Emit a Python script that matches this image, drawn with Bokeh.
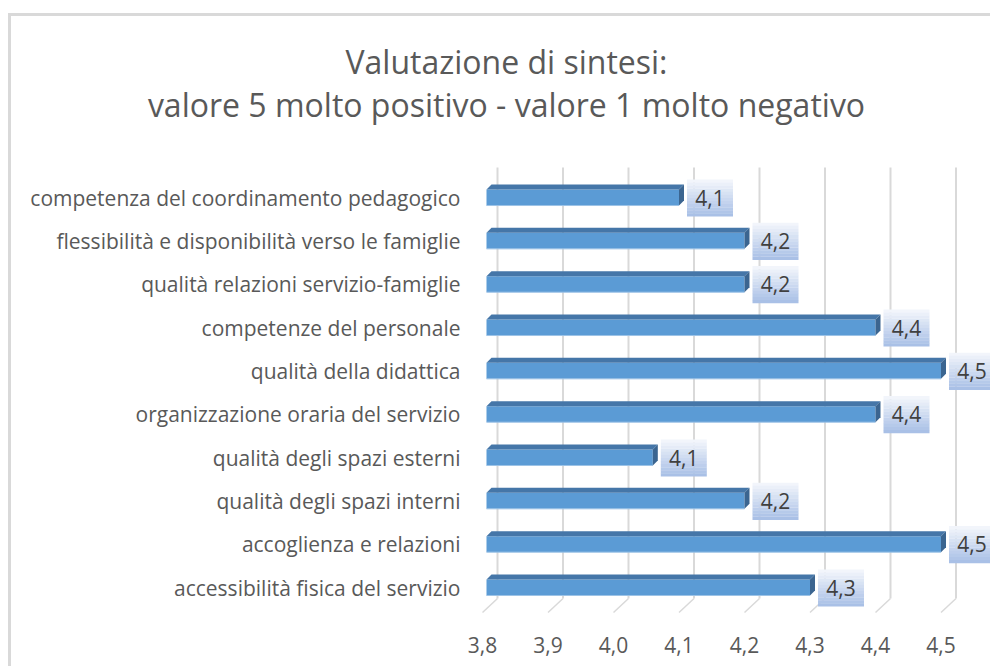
from bokeh.plotting import figure
from bokeh.layouts import column
from bokeh.models import Range1d, FixedTicker, CustomJSTickFormatter, Div
from bokeh.core.properties import value
from bokeh.embed import file_html
from bokeh.resources import INLINE

# ---------------- data ----------------
categories = [
    "competenza del coordinamento pedagogico",
    "flessibilità e disponibilità verso le famiglie",
    "qualità relazioni servizio-famiglie",
    "competenze del personale",
    "qualità della didattica",
    "organizzazione oraria del servizio",
    "qualità degli spazi esterni",
    "qualità degli spazi interni",
    "accoglienza e relazioni",
    "accessibilità fisica del servizio",
]
values = [4.10, 4.20, 4.20, 4.40, 4.50, 4.40, 4.06, 4.20, 4.50, 4.30]
x_ticks = [3.8, 3.9, 4.0, 4.1, 4.2, 4.3, 4.4, 4.5]
title_lines = ["Valutazione di sintesi:",
               "valore 5 molto positivo - valore 1 molto negativo"]

# ---------------- geometry (pixels -> data) ----------------
PX = 655.0     # px per x unit
PY = 43.33     # px per category step
X0 = 3.8
n = len(categories)
ks = [n - 1 - i for i in range(n)]

W = 979
TITLE_H = 134
H = 516
FONT = "Open Sans"
GREY = "#595959"

# frame: page x 474..990, page y 150..615 ; bar k=0 centre at page y 587
p = figure(width=W, height=H, output_backend="svg", toolbar_location=None,
           x_range=Range1d(X0 - 8 / PX, X0 + 508 / PX),
           y_range=Range1d(-28 / PY, 437 / PY),
           min_border_left=463, min_border_right=0,
           min_border_top=0, min_border_bottom=51)
p.outline_line_color = None
p.xgrid.visible = False
p.ygrid.visible = False

# ---------------- 3D gridlines ----------------
gdx = 15 / PX
k_top = (587 - 167) / PY
k_back = (587 - 598) / PY
k_front = (587 - 612) / PY
p.segment(x0=[t + gdx for t in x_ticks], y0=[k_top] * len(x_ticks),
          x1=[t + gdx for t in x_ticks], y1=[k_back] * len(x_ticks),
          line_color="#d9d9d9", line_width=2)
p.segment(x0=[t + gdx for t in x_ticks], y0=[k_back] * len(x_ticks),
          x1=x_ticks, y1=[k_front] * len(x_ticks),
          line_color="#d9d9d9", line_width=1.5)

# ---------------- 3D bars ----------------
h = 8 / PY
dx = 5 / PX
dy = 5 / PY
left = X0 + 4 / PX
p.hbar(y=ks, left=left, right=values, height=2 * h,
       fill_color="#5b9bd5", line_color=None)
p.segment(x0=[left] * n, y0=[k - h for k in ks], x1=values, y1=[k - h for k in ks],
          line_color="#9dc3e6", line_width=1)
top_xs = [[left, v, v + dx, left + dx] for v in values]
top_ys = [[k + h, k + h, k + h + dy, k + h + dy] for k in ks]
p.patches(top_xs, top_ys, fill_color="#4576a8", line_color=None)
side_xs = [[v, v + dx, v + dx, v] for v in values]
side_ys = [[k - h, k - h + dy, k + h + dy, k + h] for k in ks]
p.patches(side_xs, side_ys, fill_color="#3b6590", line_color=None)

# ---------------- data labels with gradient boxes ----------------
bw = 46 / PX
bh = 37.0
nstrip = 12
c_top = (0xf2, 0xf5, 0xfb)
c_bot = (0xa9, 0xc0, 0xe6)
for s in range(nstrip):
    f = s / (nstrip - 1)
    col = "#%02x%02x%02x" % tuple(int(round(a + (b - a) * f)) for a, b in zip(c_top, c_bot))
    yoff = (bh / 2 - (s + 0.5) * bh / nstrip) / PY
    p.rect(x=[v + 8 / PX + bw / 2 for v in values], y=[k + yoff - 0.5 / PY for k in ks],
           width=bw, height=bh / nstrip / PY * 1.05,
           fill_color=col, line_color=None)
labels = [("%.1f" % v).replace(".", ",") for v in values]
p.text(x=[v + 8 / PX + bw / 2 for v in values], y=ks, text=labels,
       text_align="center", text_baseline="middle",
       text_font=value(FONT), text_font_size="21px", text_color="#404040")

# ---------------- axes ----------------
p.xaxis.ticker = FixedTicker(ticks=x_ticks)
p.xaxis.formatter = CustomJSTickFormatter(code="return tick.toFixed(1).replace('.', ',');")
p.xaxis.axis_line_color = None
p.xaxis.major_tick_line_color = None
p.xaxis.minor_tick_line_color = None
p.xaxis.major_tick_out = 0
p.xaxis.major_label_standoff = 21
p.xaxis.major_label_text_font = FONT
p.xaxis.major_label_text_font_size = "21px"
p.xaxis.major_label_text_color = GREY

p.yaxis.ticker = FixedTicker(ticks=ks)
p.yaxis.major_label_overrides = {k: c for k, c in zip(ks, categories)}
p.yaxis.axis_line_color = None
p.yaxis.major_tick_line_color = None
p.yaxis.minor_tick_line_color = None
p.yaxis.major_tick_out = 0
p.yaxis.major_label_standoff = 14
p.yaxis.major_label_text_font = FONT
p.yaxis.major_label_text_font_size = "21px"
p.yaxis.major_label_text_color = GREY

# ---------------- title ----------------
title_html = (
    '<div style="width:%dpx; box-sizing:border-box; padding-left:12px; padding-top:24px; '
    'text-align:center; font-family:\'Open Sans\'; font-size:32px; line-height:43px; '
    'color:%s; white-space:nowrap;">%s</div>' % (W, GREY, "<br>".join(title_lines))
)
title = Div(text=title_html, width=W, height=TITLE_H, margin=(0, 0, 0, 0))
p.margin = (0, 0, 0, 0)

layout = column(title, p, spacing=0,
                styles={"border-left": "3px solid #d9d9d9",
                        "border-top": "3px solid #d9d9d9",
                        "margin-left": "8px", "margin-top": "13px"})

open("out.html", "w").write(file_html(layout, INLINE))
